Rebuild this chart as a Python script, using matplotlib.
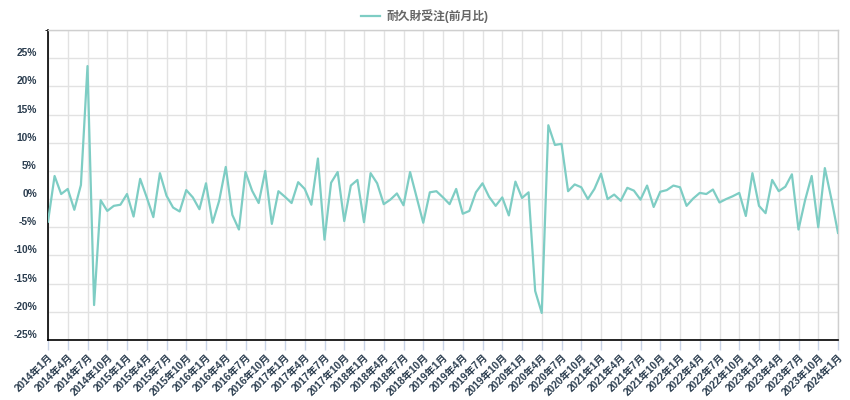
import matplotlib
matplotlib.use("Agg")
import matplotlib.pyplot as plt
from matplotlib.ticker import FixedLocator

# ---- data ----
start_year = 2014
values = [
    -4.0, 4.1, 0.9, 1.8, -1.9, 2.5, 23.6, -18.8, -0.2, -2.1, -1.2, -1.0,
    0.9, -3.1, 3.6, 0.3, -3.2, 4.6, 0.6, -1.5, -2.2, 1.6, 0.3, -1.8,
    2.8, -4.2, -0.3, 5.7, -2.8, -5.4, 4.8, 1.5, -0.7, 5.0, -4.4, 1.4,
    0.4, -0.7, 3.0, 1.8, -1.0, 7.2, -7.2, 2.9, 4.8, -3.9, 2.4, 3.4,
    -4.1, 4.6, 2.8, -0.9, -0.1, 1.0, -1.1, 4.8, 0.3, -4.2, 1.2, 1.4,
    0.3, -0.9, 1.8, -2.6, -2.1, 1.2, 2.8, 0.4, -1.2, 0.3, -2.9, 3.1,
    0.2, 1.2, -16.3, -20.2, 13.1, 9.6, 9.8, 1.4, 2.6, 2.1, 0.0, 1.8,
    4.5, 0.0, 0.8, -0.3, 2.0, 1.5, -0.1, 2.4, -1.4, 1.3, 1.6, 2.4,
    2.1, -1.2, 0.1, 1.1, 0.9, 1.7, -0.6, 0.0, 0.5, 1.1, -3.0, 4.6,
    -1.2, -2.5, 3.4, 1.4, 2.2, 4.4, -5.4, -0.2, 4.1, -5.0, 5.5, 0.0,
    -6.0,
]
month_labels = [f"{start_year + i // 12}年{i % 12 + 1}月" for i in range(len(values))]
series_name = "耐久財受注(前月比)"
y_ticks = [-25, -20, -15, -10, -5, 0, 5, 10, 15, 20, 25]

# ---- style ----
line_color = "#7ecdc4"
text_color = "#2c3e50"
grid_color = "#e2e2e2"
fam = ["Liberation Sans", "Noto Sans CJK JP", "DejaVu Sans"]
plt.rcParams["font.family"] = fam

fig = plt.figure(figsize=(8.5, 4.0), dpi=100)
ax = fig.add_axes([48 / 850, 1 - 340 / 400, (838 - 48) / 850, (340 - 30) / 400])

x = list(range(len(values)))
ax.plot(x, values, color=line_color, lw=1.6, label=series_name, zorder=3)

ax.set_xlim(0, len(values) - 1)
ax.set_ylim(-25, 30)

# x ticks every 3 months
xt = list(range(0, len(values), 3))
ax.set_xticks(xt)
ax.set_xticklabels([month_labels[i] for i in xt], rotation=45, ha="right", va="top",
                   rotation_mode="anchor", fontsize=7.4, fontweight="bold", color=text_color)
ax.tick_params(axis="x", length=7, color="#c9d3e6", width=1, pad=2)

ax.set_yticks(y_ticks)
ax.set_yticklabels([f"{v}%" for v in y_ticks], fontsize=7.4, fontweight="bold",
                   color=text_color, va="bottom")
ax.yaxis.set_minor_locator(FixedLocator([30]))
ax.tick_params(axis="y", length=0, pad=8)

ax.grid(True, which="both", color=grid_color, lw=1, zorder=0)
ax.set_axisbelow(True)

for s in ["top", "right"]:
    ax.spines[s].set_color("#cfcfcf")
    ax.spines[s].set_linewidth(1)
for s in ["left", "bottom"]:
    ax.spines[s].set_color("#000000")
    ax.spines[s].set_linewidth(1.2)

leg = fig.legend(loc="center", bbox_to_anchor=(0.5, 1 - 16 / 400), frameon=False,
                 handlelength=1.6, handletextpad=0.6,
                 prop={"family": fam, "weight": "bold", "size": 8.5})
for t in leg.get_texts():
    t.set_color("#666666")

fig.savefig("out.png", dpi=100)
